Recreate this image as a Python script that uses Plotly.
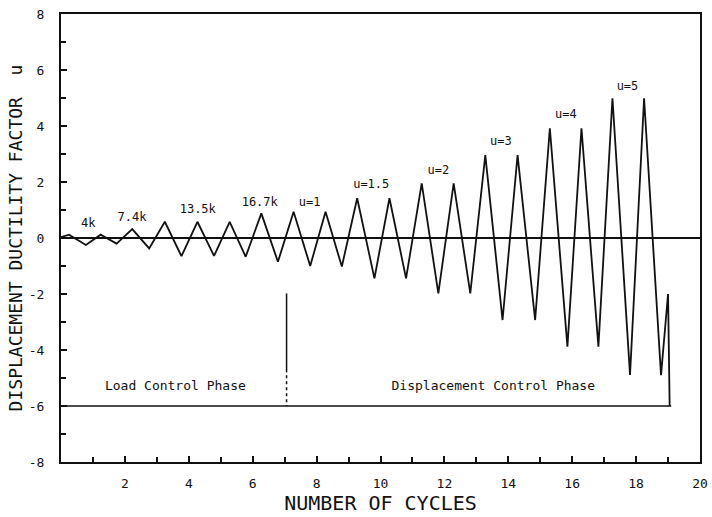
import plotly.graph_objects as go

# ---- data ----
cycle_x = [0, 0.25, 0.78, 1.24, 1.74, 2.23, 2.76, 3.25, 3.77, 4.27, 4.79, 5.28, 5.78,
           6.27, 6.79, 7.28, 7.80, 8.28, 8.79, 9.27, 9.81, 10.28, 10.80, 11.29, 11.81,
           12.29, 12.81, 13.28, 13.82, 14.29, 14.84, 15.30, 15.85, 16.29, 16.82, 17.26,
           17.81, 18.25, 18.78, 19.0, 19.05]
ductility_y = [0.03, 0.12, -0.25, 0.12, -0.2, 0.32, -0.37, 0.58, -0.65, 0.58, -0.64, 0.58, -0.67,
               0.88, -0.85, 0.94, -1.0, 0.94, -1.02, 1.42, -1.44, 1.42, -1.44, 1.95, -1.98,
               1.95, -1.98, 2.96, -2.93, 2.96, -2.93, 3.92, -3.88, 3.92, -3.88, 4.99,
               -4.89, 4.99, -4.9, -2.0, -6.0]

phase_line_x = [0, 19.1]
phase_line_y = [-6, -6]
divider_x = [7.06, 7.06]
divider_solid_y = [-1.98, -4.8]
divider_dotted_y = [-4.9, -6.0]

label_text = ["4k", "7.4k", "13.5k", "16.7k", "u=1", "u=1.5", "u=2", "u=3", "u=4", "u=5"]
label_x = [0.85, 2.22, 4.28, 6.22, 7.78, 9.71, 11.81, 13.77, 15.8, 17.73]
label_y = [0.5, 0.7, 1.0, 1.25, 1.25, 1.89, 2.4, 3.44, 4.39, 5.4]

phase_text = ["Load Control Phase", "Displacement Control Phase"]
phase_x = [3.58, 13.53]
phase_y = [-5.32, -5.32]

x_tickvals = [2, 4, 6, 8, 10, 12, 14, 16, 18, 20]
x_ticktext = ["2", "4", "6", "8", "10", "12", "14", "16", "18", "20"]
y_tickvals = [8, 6, 4, 2, 0, -2, -4, -6, -8]
y_ticktext = ["8", "6", "4", "2", "0", "-2", "-4", "-6", "-8"]

FONT = "DejaVu Sans Mono"
BLACK = "#111111"

fig = go.Figure()
fig.add_trace(go.Scatter(x=cycle_x, y=ductility_y, mode="lines",
                         line=dict(color=BLACK, width=1.8), showlegend=False))
fig.add_trace(go.Scatter(x=phase_line_x, y=phase_line_y, mode="lines",
                         line=dict(color=BLACK, width=1.5), showlegend=False))
fig.add_trace(go.Scatter(x=divider_x, y=divider_solid_y, mode="lines",
                         line=dict(color=BLACK, width=1.5), showlegend=False))
fig.add_trace(go.Scatter(x=divider_x, y=divider_dotted_y, mode="lines",
                         line=dict(color=BLACK, width=1.5, dash="dot"), showlegend=False))
fig.add_trace(go.Scatter(x=label_x, y=label_y, mode="text", text=label_text,
                         textposition="middle center",
                         textfont=dict(family=FONT, size=12, color=BLACK), showlegend=False))
fig.add_trace(go.Scatter(x=phase_x, y=phase_y, mode="text", text=phase_text,
                         textposition="middle center",
                         textfont=dict(family=FONT, size=13, color=BLACK), showlegend=False))

fig.update_layout(
    width=712, height=517,
    margin=dict(l=61, r=12, t=14, b=55),
    paper_bgcolor="white", plot_bgcolor="white",
    font=dict(family=FONT, color=BLACK),
)
fig.update_xaxes(
    range=[0, 20], showgrid=False, zeroline=False, automargin=False,
    showline=True, linecolor=BLACK, linewidth=2, mirror=True,
    ticks="inside", ticklen=6, tickwidth=1.5, tickcolor=BLACK,
    tickvals=x_tickvals, ticktext=x_ticktext,
    tickfont=dict(family=FONT, size=13, color=BLACK),
    ticklabelstandoff=8,
    minor=dict(ticks="inside", ticklen=5, tickwidth=1.5, tickcolor=BLACK, dtick=1, showgrid=False),
    title=dict(text="NUMBER OF CYCLES", font=dict(family=FONT, size=20, color=BLACK), standoff=6),
)
fig.update_yaxes(
    range=[-8, 8], showgrid=False, automargin=False,
    zeroline=True, zerolinecolor=BLACK, zerolinewidth=1.5,
    showline=True, linecolor=BLACK, linewidth=2, mirror=True,
    ticks="inside", ticklen=6, tickwidth=1.5, tickcolor=BLACK,
    tickvals=y_tickvals, ticktext=y_ticktext,
    tickfont=dict(family=FONT, size=13, color=BLACK),
    ticklabelstandoff=12,
    minor=dict(ticks="inside", ticklen=5, tickwidth=1.5, tickcolor=BLACK, dtick=1, showgrid=False),
    title=dict(text="DISPLACEMENT DUCTILITY FACTOR  u", font=dict(family=FONT, size=18, color=BLACK), standoff=1),
)

fig.write_html("out.html")
